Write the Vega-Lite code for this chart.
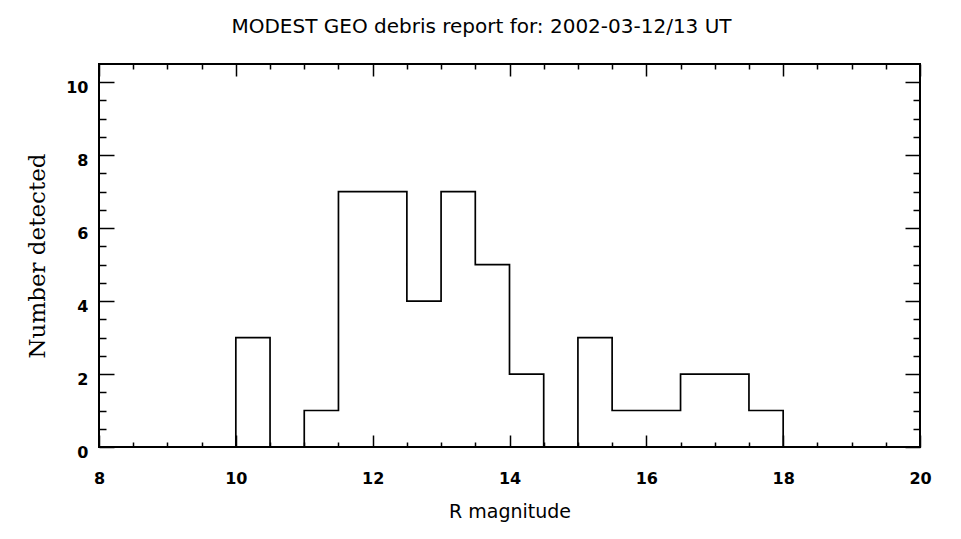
{
  "$schema": "https://vega.github.io/schema/vega-lite/v6.json",
  "width": 821,
  "height": 383,
  "autosize": {"type": "none"},
  "padding": {"left": 99, "top": 64, "right": 41, "bottom": 92},
  "background": "white",
  "title": {
    "text": "MODEST GEO debris report for: 2002-03-12/13 UT",
    "font": "DejaVu Sans",
    "fontSize": 20,
    "fontWeight": "normal",
    "color": "black",
    "anchor": "middle",
    "frame": "group",
    "dx": -28,
    "offset": 26
  },
  "config": {
    "view": {"stroke": "black", "strokeWidth": 2},
    "axis": {
      "grid": false,
      "domain": false,
      "tickColor": "black",
      "tickWidth": 1.5,
      "labelColor": "black",
      "titleColor": "black",
      "labelFont": "DejaVu Sans",
      "labelFontSize": 16,
      "labelFontWeight": "bold"
    }
  },
  "data": {
    "values": [
      {"mag": 8, "count": 0},
      {"mag": 10, "count": 3},
      {"mag": 10.5, "count": 0},
      {"mag": 11, "count": 1},
      {"mag": 11.5, "count": 7},
      {"mag": 12, "count": 7},
      {"mag": 12.5, "count": 4},
      {"mag": 13, "count": 7},
      {"mag": 13.5, "count": 5},
      {"mag": 14, "count": 2},
      {"mag": 14.5, "count": 0},
      {"mag": 15, "count": 3},
      {"mag": 15.5, "count": 1},
      {"mag": 16, "count": 1},
      {"mag": 16.5, "count": 2},
      {"mag": 17, "count": 2},
      {"mag": 17.5, "count": 1},
      {"mag": 18, "count": 0},
      {"mag": 20, "count": 0}
    ]
  },
  "layer": [
    {
      "mark": {"type": "line", "interpolate": "step-after", "color": "black", "strokeWidth": 1.7},
      "encoding": {
        "x": {
          "field": "mag", "type": "quantitative",
          "scale": {"domain": [8, 20], "nice": false, "zero": false},
          "axis": {
            "orient": "bottom", "values": [8, 10, 12, 14, 16, 18, 20],
            "tickSize": -12, "labelPadding": 35, "labelFlush": false,
            "title": "R magnitude", "titleFont": "DejaVu Sans", "titleFontSize": 19,
            "titleFontWeight": "normal", "titlePadding": 16
          }
        },
        "y": {
          "field": "count", "type": "quantitative",
          "scale": {"domain": [0, 10.5], "nice": false},
          "axis": {
            "orient": "left", "values": [0, 2, 4, 6, 8, 10],
            "tickSize": -15, "labelPadding": 26, "labelOffset": 5, "labelFlush": false,
            "title": "Number detected", "titleFont": "DejaVu Serif", "titleFontSize": 23,
            "titleFontWeight": "normal", "titlePadding": 16
          }
        }
      }
    },
    {
      "mark": {"type": "line", "opacity": 0},
      "encoding": {
        "x": {
          "field": "mag", "type": "quantitative",
          "scale": {"domain": [8, 20], "nice": false, "zero": false},
          "axis": {
            "orient": "bottom",
            "values": [8.5, 9, 9.5, 10.5, 11, 11.5, 12.5, 13, 13.5, 14.5, 15, 15.5, 16.5, 17, 17.5, 18.5, 19, 19.5],
            "tickSize": -5, "labels": false, "title": null
          }
        },
        "y": {
          "field": "count", "type": "quantitative",
          "scale": {"domain": [0, 10.5], "nice": false},
          "axis": {
            "orient": "left",
            "values": [0.5, 1, 1.5, 2.5, 3, 3.5, 4.5, 5, 5.5, 6.5, 7, 7.5, 8.5, 9, 9.5],
            "tickSize": -7, "labels": false, "title": null
          }
        }
      }
    },
    {
      "mark": {"type": "line", "opacity": 0},
      "encoding": {
        "x": {
          "field": "mag", "type": "quantitative",
          "scale": {"domain": [8, 20], "nice": false, "zero": false},
          "axis": {
            "orient": "top", "values": [8, 10, 12, 14, 16, 18, 20],
            "tickSize": -12, "labels": false, "title": null
          }
        },
        "y": {
          "field": "count", "type": "quantitative",
          "scale": {"domain": [0, 10.5], "nice": false},
          "axis": {
            "orient": "right", "values": [0, 2, 4, 6, 8, 10],
            "tickSize": -15, "labels": false, "title": null
          }
        }
      }
    },
    {
      "mark": {"type": "line", "opacity": 0},
      "encoding": {
        "x": {
          "field": "mag", "type": "quantitative",
          "scale": {"domain": [8, 20], "nice": false, "zero": false},
          "axis": {
            "orient": "top",
            "values": [8.5, 9, 9.5, 10.5, 11, 11.5, 12.5, 13, 13.5, 14.5, 15, 15.5, 16.5, 17, 17.5, 18.5, 19, 19.5],
            "tickSize": -5, "labels": false, "title": null
          }
        },
        "y": {
          "field": "count", "type": "quantitative",
          "scale": {"domain": [0, 10.5], "nice": false},
          "axis": {
            "orient": "right",
            "values": [0.5, 1, 1.5, 2.5, 3, 3.5, 4.5, 5, 5.5, 6.5, 7, 7.5, 8.5, 9, 9.5],
            "tickSize": -7, "labels": false, "title": null
          }
        }
      }
    }
  ],
  "resolve": {"scale": {"x": "independent", "y": "independent"}}
}
